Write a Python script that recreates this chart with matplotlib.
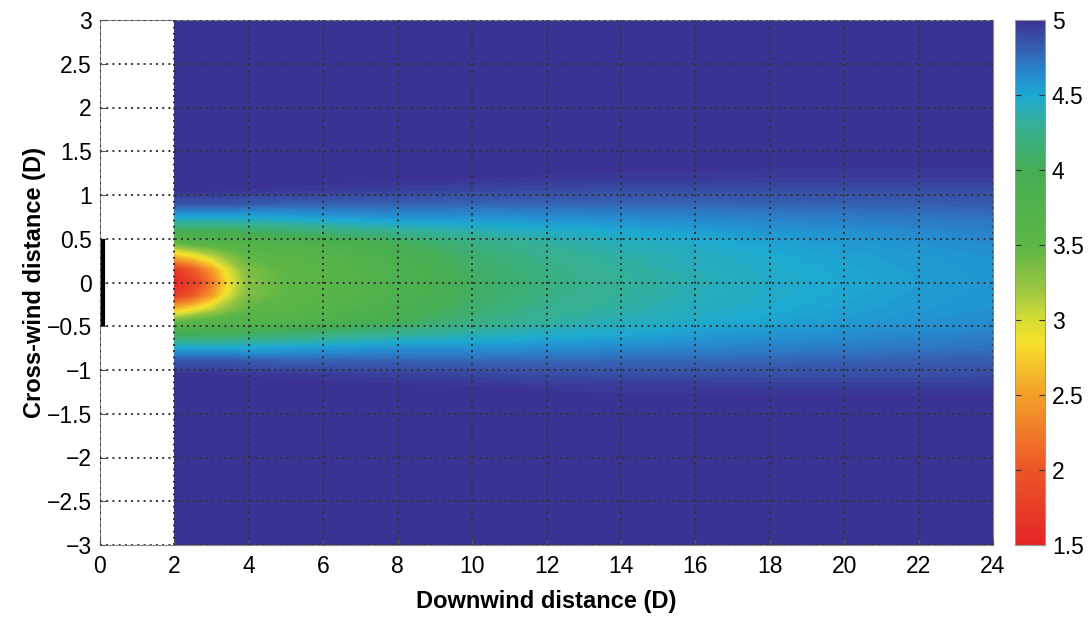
import numpy as np
import matplotlib
matplotlib.use("Agg")
import matplotlib.pyplot as plt
from matplotlib.colors import LinearSegmentedColormap

plt.rcParams['font.family'] = ['Liberation Sans', 'DejaVu Sans']

# downwind stations (D) and cross-wind stations (D, upper half; wake is symmetric)
x_nodes = [2, 2.5, 3, 3.5, 4, 5, 6, 8, 10, 12, 14, 16, 18, 20, 22, 24]
y_nodes = [0, 0.15, 0.3, 0.45, 0.6, 0.75, 0.9, 1.05, 1.2, 1.4, 3.0]

# wind speed, one row per downwind station
speed = [
    [1.55, 1.70, 2.60, 3.45, 4.05, 4.50, 4.85, 4.98, 5.00, 5.00, 5.00],
    [1.75, 2.00, 2.80, 3.55, 4.05, 4.50, 4.85, 4.98, 5.00, 5.00, 5.00],
    [2.20, 2.45, 3.05, 3.60, 4.05, 4.50, 4.85, 4.98, 5.00, 5.00, 5.00],
    [2.90, 3.00, 3.30, 3.65, 4.05, 4.50, 4.85, 4.97, 5.00, 5.00, 5.00],
    [3.30, 3.35, 3.48, 3.70, 4.10, 4.50, 4.82, 4.97, 5.00, 5.00, 5.00],
    [3.50, 3.50, 3.55, 3.75, 4.15, 4.52, 4.80, 4.96, 5.00, 5.00, 5.00],
    [3.58, 3.58, 3.64, 3.82, 4.20, 4.55, 4.80, 4.95, 5.00, 5.00, 5.00],
    [3.80, 3.82, 3.88, 4.00, 4.30, 4.60, 4.80, 4.93, 4.99, 5.00, 5.00],
    [4.05, 4.07, 4.12, 4.20, 4.38, 4.60, 4.78, 4.91, 4.98, 5.00, 5.00],
    [4.20, 4.22, 4.26, 4.32, 4.45, 4.62, 4.78, 4.89, 4.97, 5.00, 5.00],
    [4.30, 4.32, 4.35, 4.40, 4.50, 4.64, 4.78, 4.88, 4.96, 5.00, 5.00],
    [4.38, 4.40, 4.42, 4.46, 4.55, 4.66, 4.78, 4.88, 4.96, 5.00, 5.00],
    [4.45, 4.46, 4.48, 4.52, 4.59, 4.68, 4.79, 4.88, 4.95, 5.00, 5.00],
    [4.50, 4.51, 4.53, 4.56, 4.62, 4.70, 4.80, 4.88, 4.95, 5.00, 5.00],
    [4.55, 4.56, 4.57, 4.60, 4.65, 4.72, 4.81, 4.88, 4.95, 5.00, 5.00],
    [4.58, 4.59, 4.60, 4.63, 4.68, 4.74, 4.82, 4.89, 4.95, 5.00, 5.00],
]

cbar_ticks = [1.5, 2, 2.5, 3, 3.5, 4, 4.5, 5]
x_ticks = list(range(0, 25, 2))
y_ticks = [-3, -2.5, -2, -1.5, -1, -0.5, 0, 0.5, 1, 1.5, 2, 2.5, 3]

# colour map sampled from the colour bar
cmap = LinearSegmentedColormap.from_list('wake', [
    (0.000, '#e42527'), (0.143, '#ec5627'), (0.286, '#f4a02a'),
    (0.386, '#f5e12b'), (0.429, '#d6dc35'), (0.486, '#9cc640'),
    (0.571, '#5db646'), (0.714, '#45ad52'), (0.800, '#35b094'),
    (0.857, '#1da9d2'), (0.900, '#2689cf'), (0.943, '#3562b3'),
    (1.000, '#3b3393')])

# mirror the half-profile to get the full cross-wind field
y_half = np.array(y_nodes)
y_full = np.concatenate([-y_half[:0:-1], y_half])
z_half = np.array(speed).T
z_full = np.vstack([z_half[:0:-1], z_half])

fig = plt.figure(figsize=(10.92, 6.17), dpi=100)
ax = fig.add_axes([100 / 1092, 72 / 617, 893 / 1092, 525 / 617])
levels = np.linspace(1.5, 5.0, 141)
cf = ax.contourf(np.array(x_nodes), y_full, z_full, levels=levels,
                 cmap=cmap, vmin=1.5, vmax=5, extend='both', zorder=1)

# turbine rotor
ax.plot([0.08, 0.08], [-0.5, 0.5], color='black', linewidth=3, zorder=4,
        solid_capstyle='butt')

ax.set_xlim(0, 24)
ax.set_ylim(-3, 3)
ax.set_xticks(x_ticks)
ax.set_yticks(y_ticks)
ax.set_yticklabels([('%g' % v).replace('-', '\u2212') for v in y_ticks])
ax.grid(True, color='#333333', linestyle=(0, (1, 2.2)), linewidth=1.4, zorder=3)
ax.set_axisbelow(False)
ax.tick_params(direction='in', length=4, labelsize=16.5, color='#555555')
ax.tick_params(axis='x', pad=7)
ax.tick_params(axis='y', pad=6)
for s in ax.spines.values():
    s.set_color('#888888')

ax.set_xlabel('Downwind distance (D)', fontsize=17, fontweight='bold')
ax.set_ylabel('Cross-wind distance (D)', fontsize=17, fontweight='bold')
ax.xaxis.set_label_coords(0.5, -0.085)
ax.yaxis.set_label_coords(-0.06, 0.5)

cax = fig.add_axes([1015 / 1092, 72 / 617, 30 / 1092, 525 / 617])
sm = plt.cm.ScalarMappable(cmap=cmap, norm=plt.Normalize(1.5, 5))
cb = fig.colorbar(sm, cax=cax, ticks=cbar_ticks)
cb.ax.set_yticklabels(['%g' % v for v in cbar_ticks])
cb.ax.tick_params(direction='in', length=4, labelsize=16.5, left=True, right=True,
                  color='#333333', pad=5)
cb.outline.set_edgecolor('#999999')

fig.savefig('out.png', dpi=100)
